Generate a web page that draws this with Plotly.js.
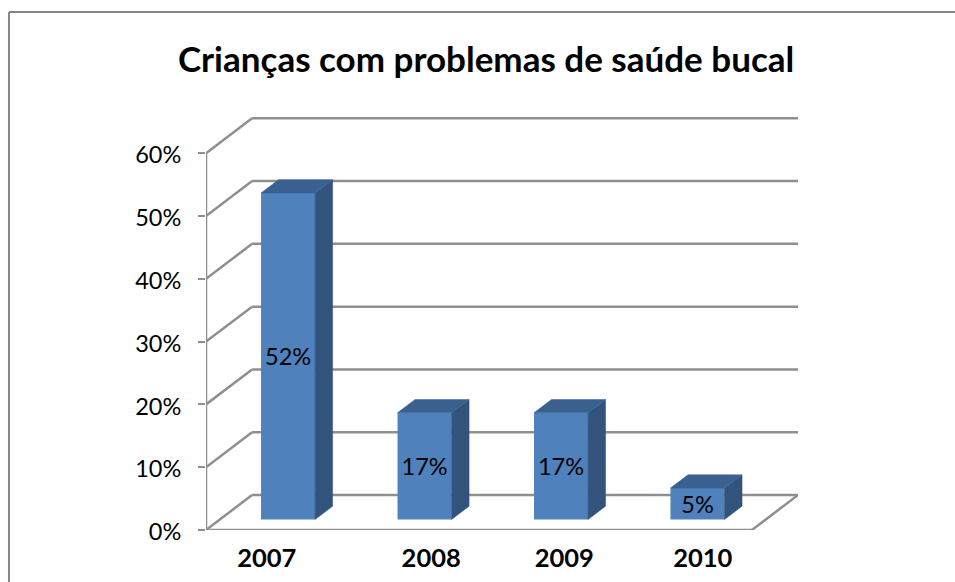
<!DOCTYPE html>
<html>
<head>
<meta charset="utf-8">
<script src="https://cdn.plot.ly/plotly-3.0.1.min.js"></script>
<style>html,body{margin:0;padding:0;background:#fff}#chart{width:955px;height:582px}</style>
</head>
<body>
<div id="chart"></div>
<script>
// Data
var categories = ['2007', '2008', '2009', '2010'];
var values = [52, 17, 17, 5];
var labels = ['52%', '17%', '17%', '5%'];
var yTicks = [0, 10, 20, 30, 40, 50, 60];
var yTickLabels = ['0%', '10%', '20%', '30%', '40%', '50%', '60%'];
// The reference's category labels sit off-centre from their bars
var labelShift = [-0.055, 0.15, 0.125, 0.14];

// Pseudo-3D projection, in axis units
var depthX = 0.3376, depthY = 5.57;
var barFront = 0.3, barBack = 0.68, barWidth = 0.396;
var FRONT = '#4F81BD', SIDE = '#32537C', TOP = '#3A6090', GRID = '#8F8F8F';
var FONT = 'Lato, Carlito, sans-serif';

function px(i, d) { return i + d * depthX; }
function py(v, d) { return v + d * depthY; }

var xMax = 3.5 + depthX;
var xMin = -0.5;
var yMax = 60 + depthY + 0.2;

function line(x0, y0, x1, y1) {
  return {type: 'line', xref: 'x', yref: 'y', x0: x0, y0: y0, x1: x1, y1: y1,
          layer: 'below', line: {color: GRID, width: 2.5}};
}
var shapes = [];
yTicks.forEach(function (t) {
  shapes.push(line(xMin, t, px(xMin, 1), py(t, 1)));
  shapes.push(line(px(xMin, 1), py(t, 1), px(3.5, 1), py(t, 1)));
});
shapes.push(line(xMin, 0, xMin, 60));
shapes.push(line(xMin, 0, 3.5, 0));
shapes.push(line(3.5, 0, px(3.5, 1), py(0, 1)));

// Outer frame of the picture (no right or bottom edge)
var frameX = -0.3328, frameY = 1.254;
shapes.push({type: 'line', xref: 'paper', yref: 'paper', x0: frameX, y0: -0.13, x1: frameX, y1: frameY, line: {color: '#868686', width: 2}});
shapes.push({type: 'line', xref: 'paper', yref: 'paper', x0: frameX, y0: frameY, x1: 1.27, y1: frameY, line: {color: '#868686', width: 2}});

var traces = [{
  type: 'bar',
  x: categories.map(function (c, i) { return px(i, barFront); }),
  y: values,
  base: values.map(function () { return py(0, barFront); }),
  width: barWidth,
  marker: {color: FRONT, line: {width: 0}},
  text: labels,
  textposition: 'inside',
  insidetextanchor: 'middle',
  constraintext: 'none',
  textangle: 0,
  textfont: {family: FONT, size: 23.5, color: '#000'},
  hoverinfo: 'skip',
  cliponaxis: false,
  showlegend: false
}];

function face(xs, ys, color) {
  traces.push({type: 'scatter', mode: 'lines', x: xs, y: ys, fill: 'toself', fillcolor: color,
    line: {width: 0.5, color: color}, hoverinfo: 'skip', showlegend: false, cliponaxis: false});
}
values.forEach(function (v, i) {
  var l = i - barWidth / 2, r = i + barWidth / 2;
  face([px(r, barFront), px(r, barBack), px(r, barBack), px(r, barFront), px(r, barFront)],
       [py(0, barFront), py(0, barBack), py(v, barBack), py(v, barFront), py(0, barFront)], SIDE);
  face([px(l, barFront), px(r, barFront), px(r, barBack), px(l, barBack), px(l, barFront)],
       [py(v, barFront), py(v, barFront), py(v, barBack), py(v, barBack), py(v, barFront)], TOP);
});

var layout = {
  width: 955, height: 582,
  paper_bgcolor: '#fff', plot_bgcolor: 'rgba(0,0,0,0)',
  margin: {l: 206, r: 157, t: 117, b: 52, pad: 0},
  title: {text: '<b>Crianças com problemas de saúde bucal</b>', xref: 'container', yref: 'container',
          x: 0.509, y: 0.898, xanchor: 'center', yanchor: 'middle',
          font: {family: FONT, size: 35, color: '#000'}},
  xaxis: {range: [xMin, xMax], tickmode: 'array',
          tickvals: categories.map(function (c, i) { return i + labelShift[i]; }),
          ticktext: categories, ticks: '', showgrid: false, zeroline: false, showline: false,
          ticklabelstandoff: 10,
          tickfont: {family: FONT, size: 25.5, color: '#000', weight: 'bold'}, fixedrange: true},
  yaxis: {range: [0, yMax], tickmode: 'array', tickvals: yTicks, ticktext: yTickLabels,
          ticks: 'outside', ticklen: 7, tickwidth: 2, tickcolor: GRID,
          ticklabelstandoff: 12, ticklabelshift: 2,
          showgrid: false, zeroline: false, showline: false,
          tickfont: {family: FONT, size: 23.5, color: '#000'}, fixedrange: true},
  shapes: shapes,
  hovermode: false, showlegend: false
};
Plotly.newPlot('chart', traces, layout, {displayModeBar: false, staticPlot: true});
</script>
</body>
</html>
